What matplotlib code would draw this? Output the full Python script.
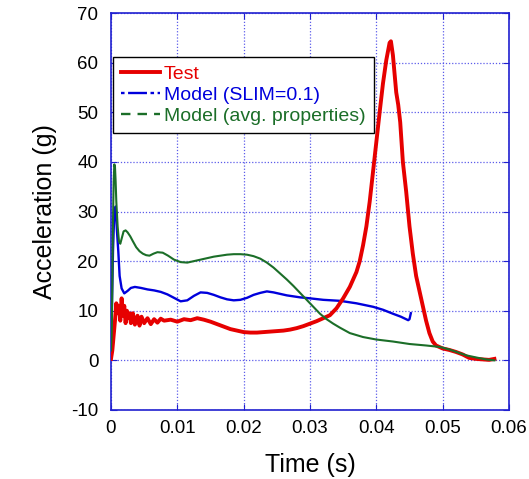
import matplotlib
matplotlib.use("Agg")
import matplotlib.pyplot as plt
from matplotlib.lines import Line2D

# ---- data ----
test_t = [0, 0.0002, 0.0004, 0.0006, 0.0008, 0.001, 0.0012, 0.0014, 0.0016, 0.0018, 0.002,
          0.0022, 0.0024, 0.0026, 0.0028, 0.003, 0.0033, 0.0036, 0.004, 0.0043, 0.0046, 0.005,
          0.0055, 0.006, 0.0065, 0.007, 0.0075, 0.008, 0.009, 0.010, 0.011, 0.012, 0.013, 0.014,
          0.015, 0.016, 0.017, 0.018, 0.019, 0.020, 0.021, 0.022, 0.023, 0.024, 0.025, 0.026,
          0.027, 0.028, 0.029, 0.030, 0.031, 0.032, 0.033, 0.034, 0.035, 0.036, 0.037, 0.0375,
          0.038, 0.0385, 0.039, 0.0395, 0.040, 0.0405, 0.041, 0.0415, 0.042, 0.0422, 0.0425,
          0.043, 0.0433, 0.0436, 0.044, 0.0445, 0.045, 0.0455, 0.046, 0.0465, 0.047, 0.0475,
          0.048, 0.0485, 0.049, 0.050, 0.051, 0.052, 0.053, 0.054, 0.055, 0.056, 0.057, 0.0578]
test_a = [0.3, 2, 5, 8, 11.5, 9.5, 11, 8, 12.5, 9, 11,
          7.5, 10, 8.5, 9.5, 7.5, 9.5, 7.2, 9, 7, 8.8, 7.5,
          8.5, 7.3, 8.3, 7.6, 8.4, 8, 8.2, 7.8, 8.3, 8.1, 8.5, 8.2,
          7.8, 7.3, 6.8, 6.3, 6.0, 5.7, 5.6, 5.6, 5.7, 5.8, 5.9, 6.0,
          6.2, 6.5, 6.9, 7.4, 7.9, 8.5, 9.1, 10.5, 12.5, 14.8, 17.8, 20,
          23.2, 27, 32, 38, 44, 50, 55.8, 60.5, 64, 64.3, 61.5,
          54, 51.5, 48, 40, 34, 27, 21.5, 17, 14, 11, 8,
          5.5, 3.8, 3.0, 2.4, 2.1, 1.7, 1.2, 0.5, 0.3, 0.2, 0.1, 0.3]

slim_t = [0, 0.0001, 0.0003, 0.0005, 0.0007, 0.0009, 0.0011, 0.0013, 0.0016, 0.002, 0.0025,
          0.003, 0.0036, 0.0045, 0.0055, 0.0065, 0.0075, 0.0085, 0.0095, 0.0105, 0.0115,
          0.0125, 0.0135, 0.0145, 0.0155, 0.0165, 0.0175, 0.0185, 0.0195, 0.0205, 0.0215,
          0.0225, 0.0235, 0.0245, 0.0255, 0.0265, 0.0275, 0.0285, 0.030, 0.032, 0.0345,
          0.037, 0.0395, 0.041, 0.0425, 0.0437, 0.0448, 0.0450, 0.0452]
slim_a = [1, 8, 22, 30, 31, 26, 22, 17, 14.5, 13.5, 14,
          14.6, 14.8, 14.6, 14.3, 14.1, 13.8, 13.3, 12.6, 11.9, 12.1,
          13.0, 13.7, 13.6, 13.2, 12.7, 12.3, 12.1, 12.2, 12.6, 13.2,
          13.6, 13.9, 13.7, 13.4, 13.1, 12.9, 12.7, 12.5, 12.2, 12.0,
          11.5, 10.8, 10.2, 9.4, 8.8, 8.1, 8.3, 9.5]

avg_t = [0, 0.0001, 0.0002, 0.0003, 0.0004, 0.0005, 0.0006, 0.0007, 0.0008, 0.001, 0.0012,
         0.0014, 0.0016, 0.0019, 0.0022, 0.0025, 0.0029, 0.0033, 0.0038, 0.0043, 0.0048,
         0.0053, 0.0058, 0.0064, 0.007, 0.0078, 0.0086, 0.0095, 0.0105, 0.0115, 0.0125,
         0.0135, 0.0145, 0.0155, 0.0165, 0.0175, 0.0185, 0.0195, 0.0205, 0.0215, 0.0225,
         0.0235, 0.0245, 0.0255, 0.0265, 0.0275, 0.0285, 0.0295, 0.0305, 0.0315, 0.0325,
         0.0335, 0.0345, 0.036, 0.038, 0.040, 0.0425, 0.045, 0.0475, 0.0496, 0.051, 0.0525,
         0.0536, 0.055, 0.0565, 0.0578]
avg_a = [2, 5, 15, 28, 36, 39.5, 39, 36, 32, 27, 24,
         23.5, 24.5, 26, 26.2, 25.8, 25, 24, 22.8, 22, 21.5,
         21.2, 21.1, 21.5, 21.8, 21.7, 21.1, 20.3, 19.8, 19.7, 20.0,
         20.3, 20.6, 20.9, 21.1, 21.3, 21.4, 21.4, 21.3, 21.0, 20.5,
         19.7, 18.7, 17.5, 16.3, 15.0, 13.6, 12.2, 10.8, 9.4, 8.3,
         7.4, 6.6, 5.5, 4.7, 4.2, 3.8, 3.3, 3.0, 2.7, 2.2, 1.5,
         1.0, 0.6, 0.2, 0.0]

x_ticks = [0, 0.01, 0.02, 0.03, 0.04, 0.05, 0.06]
x_labels = ["0", "0.01", "0.02", "0.03", "0.04", "0.05", "0.06"]
y_ticks = [-10, 0, 10, 20, 30, 40, 50, 60, 70]
labels = ["Test", "Model (SLIM=0.1)", "Model (avg. properties)"]

# ---- style ----
plt.rcParams['font.family'] = ['Liberation Sans', 'DejaVu Sans']
plt.rcParams['axes.unicode_minus'] = False
RED = '#e60000'
BLUE = '#0000dc'
GREEN = '#1b6e28'
AXC = '#2020d0'

fig = plt.figure(figsize=(5.29, 4.79), dpi=100)
ax = fig.add_axes([111/529, 1 - 410/479, 398/529, 397/479])

ax.plot(slim_t, slim_a, color=BLUE, lw=1.7, zorder=3)
ax.plot(test_t, test_a, color=RED, lw=2.8, zorder=4)
ax.plot(avg_t, avg_a, color=GREEN, lw=1.5, zorder=5)

ax.set_xlim(0, 0.06)
ax.set_ylim(-10, 70)
ax.set_xticks(x_ticks)
ax.set_xticklabels(x_labels)
ax.set_yticks(y_ticks)
ax.tick_params(direction='in', length=4, color=AXC, labelsize=13.5, top=True, right=True,
               pad=7)
ax.tick_params(axis='y', pad=9)
for s in ax.spines.values():
    s.set_color(AXC)
    s.set_linewidth(1.2)
ax.grid(True, color='#4a4ae8', linestyle=(0, (1, 1.5)), linewidth=0.9, alpha=0.9)
ax.set_axisbelow(True)

ax.set_xlabel("Time (s)", fontsize=18, labelpad=12)
ax.set_ylabel("Acceleration (g)", fontsize=18, labelpad=10)

handles = [Line2D([], [], color=RED, lw=2.8),
           Line2D([], [], color=BLUE, lw=1.7, linestyle=(0, (1.5, 1.5, 8, 1.5))),
           Line2D([], [], color=GREEN, lw=1.7, linestyle=(0, (4, 3)))]
leg = ax.legend(handles, labels, loc='upper left', bbox_to_anchor=(0.005, 0.889),
                borderaxespad=0, fontsize=14, handlelength=2.0, handletextpad=0.2,
                labelspacing=0.18, borderpad=0.42, fancybox=False, framealpha=1,
                edgecolor='black')
leg.get_frame().set_linewidth(1.0)
for txt, c in zip(leg.get_texts(), [RED, BLUE, GREEN]):
    txt.set_color(c)

fig.savefig("out.png", dpi=100)
